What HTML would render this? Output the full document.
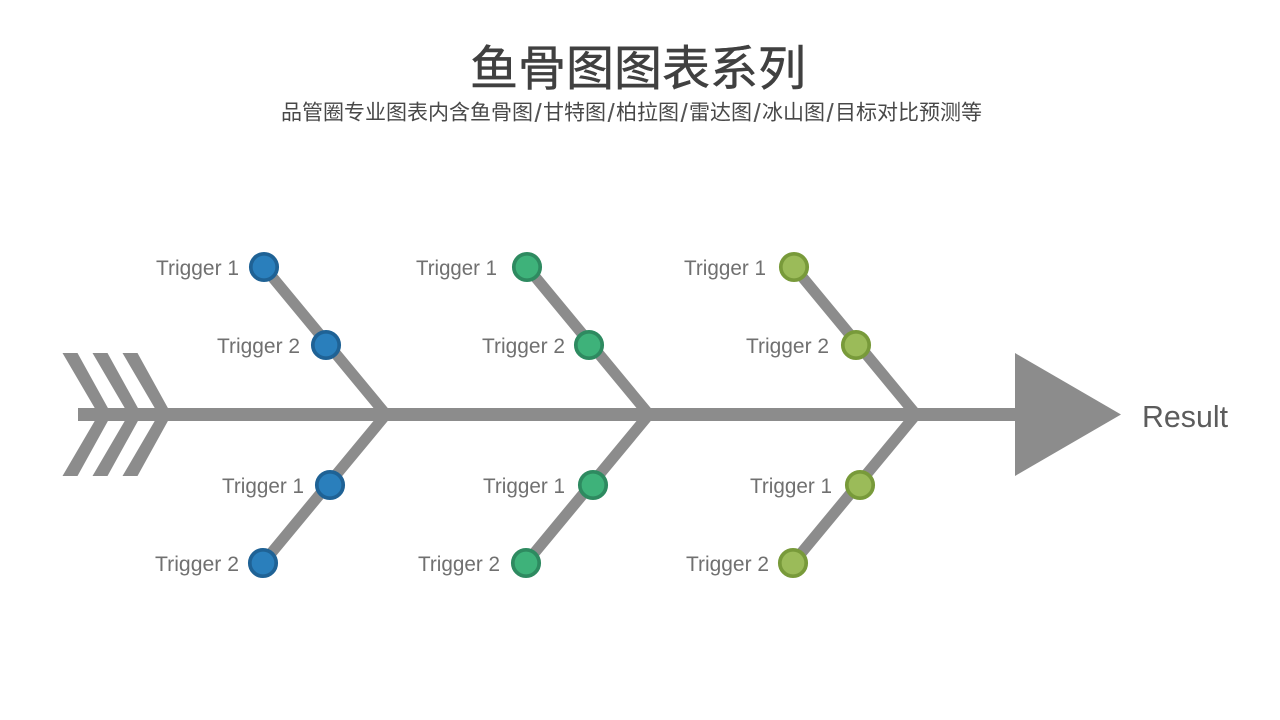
<!DOCTYPE html>
<html lang="zh">
<head>
<meta charset="utf-8">
<style>
html,body{margin:0;padding:0;background:#fff;width:1280px;height:720px;overflow:hidden}
svg{display:block}
.l{font-family:"Liberation Sans","Noto Sans CJK SC",sans-serif;font-size:21.5px;fill:#707070}
.b{stroke:#8c8c8c;stroke-width:11;fill:none}
.s{font-family:"Liberation Sans","Noto Sans CJK SC",sans-serif;font-size:21px;fill:#484848}
.sl{font-family:"Liberation Sans",sans-serif;font-size:26px;fill:#555}
.blue{fill:#2a7fbc;stroke:#1f6295;stroke-width:3.7}
.green{fill:#3eb27a;stroke:#2e8a60;stroke-width:3.7}
.olive{fill:#9bbb59;stroke:#789a3a;stroke-width:3.7}
</style>
</head>
<body>
<svg width="1280" height="720" viewBox="0 0 1280 720" xmlns="http://www.w3.org/2000/svg">
<rect width="1280" height="720" fill="#fff"/>
<text x="470" y="85" textLength="336" lengthAdjust="spacingAndGlyphs" style="font-family:'Liberation Sans','Noto Sans CJK SC',sans-serif;font-size:48px;fill:#404040;stroke:#404040;stroke-width:0.5">鱼骨图图表系列</text>

<text class="s" x="281" y="119.5">品管圈专业图表内含鱼骨图</text>
<text class="sl" x="534.5" y="122">/</text>
<text class="s" x="543" y="119.5">甘特图</text>
<text class="sl" x="607.5" y="122">/</text>
<text class="s" x="616" y="119.5">柏拉图</text>
<text class="sl" x="680.5" y="122">/</text>
<text class="s" x="689" y="119.5">雷达图</text>
<text class="sl" x="753.5" y="122">/</text>
<text class="s" x="762" y="119.5">冰山图</text>
<text class="sl" x="826.5" y="122">/</text>
<text class="s" x="835" y="119.5">目标对比预测等</text>

<!-- bones -->
<path class="b" d="M264 267L386 414.5L263 563"/>
<path class="b" d="M527 267L649 414.5L526 563"/>
<path class="b" d="M794 267L916 414.5L793 563"/>

<!-- spine -->
<rect x="78" y="408" width="940" height="13" fill="#8c8c8c"/>
<polygon points="1015,353 1121,414.5 1015,476" fill="#8c8c8c"/>
<g fill="#8c8c8c">
<polygon points="62.5,353 77.5,353 111.5,414.5 77.5,476 62.5,476 98.5,414.5"/>
<polygon points="92.5,353 107.5,353 141.5,414.5 107.5,476 92.5,476 128.5,414.5"/>
<polygon points="122.5,353 137.5,353 171.5,414.5 137.5,476 122.5,476 158.5,414.5"/>
</g>

<!-- nodes -->
<circle class="blue" cx="264" cy="267" r="13.2"/>
<circle class="blue" cx="326" cy="345" r="13.2"/>
<circle class="blue" cx="330" cy="485" r="13.2"/>
<circle class="blue" cx="263" cy="563" r="13.2"/>
<circle class="green" cx="527" cy="267" r="13.2"/>
<circle class="green" cx="589" cy="345" r="13.2"/>
<circle class="green" cx="593" cy="485" r="13.2"/>
<circle class="green" cx="526" cy="563" r="13.2"/>
<circle class="olive" cx="794" cy="267" r="13.2"/>
<circle class="olive" cx="856" cy="345" r="13.2"/>
<circle class="olive" cx="860" cy="485" r="13.2"/>
<circle class="olive" cx="793" cy="563" r="13.2"/>

<!-- labels -->
<text class="l" x="156" y="275" textLength="83" lengthAdjust="spacingAndGlyphs">Trigger 1</text>
<text class="l" x="217" y="353" textLength="83" lengthAdjust="spacingAndGlyphs">Trigger 2</text>
<text class="l" x="222" y="493" textLength="82" lengthAdjust="spacingAndGlyphs">Trigger 1</text>
<text class="l" x="155" y="571" textLength="84" lengthAdjust="spacingAndGlyphs">Trigger 2</text>
<text class="l" x="416" y="275" textLength="81" lengthAdjust="spacingAndGlyphs">Trigger 1</text>
<text class="l" x="482" y="353" textLength="83" lengthAdjust="spacingAndGlyphs">Trigger 2</text>
<text class="l" x="483" y="493" textLength="82" lengthAdjust="spacingAndGlyphs">Trigger 1</text>
<text class="l" x="418" y="571" textLength="82" lengthAdjust="spacingAndGlyphs">Trigger 2</text>
<text class="l" x="684" y="275" textLength="82" lengthAdjust="spacingAndGlyphs">Trigger 1</text>
<text class="l" x="746" y="353" textLength="83" lengthAdjust="spacingAndGlyphs">Trigger 2</text>
<text class="l" x="750" y="493" textLength="82" lengthAdjust="spacingAndGlyphs">Trigger 1</text>
<text class="l" x="686" y="571" textLength="83" lengthAdjust="spacingAndGlyphs">Trigger 2</text>
<text x="1142" y="427" textLength="86" lengthAdjust="spacingAndGlyphs" style="font-family:'Liberation Sans',sans-serif;font-size:31px;fill:#5c5c5c">Result</text>
</svg>
</body>
</html>
